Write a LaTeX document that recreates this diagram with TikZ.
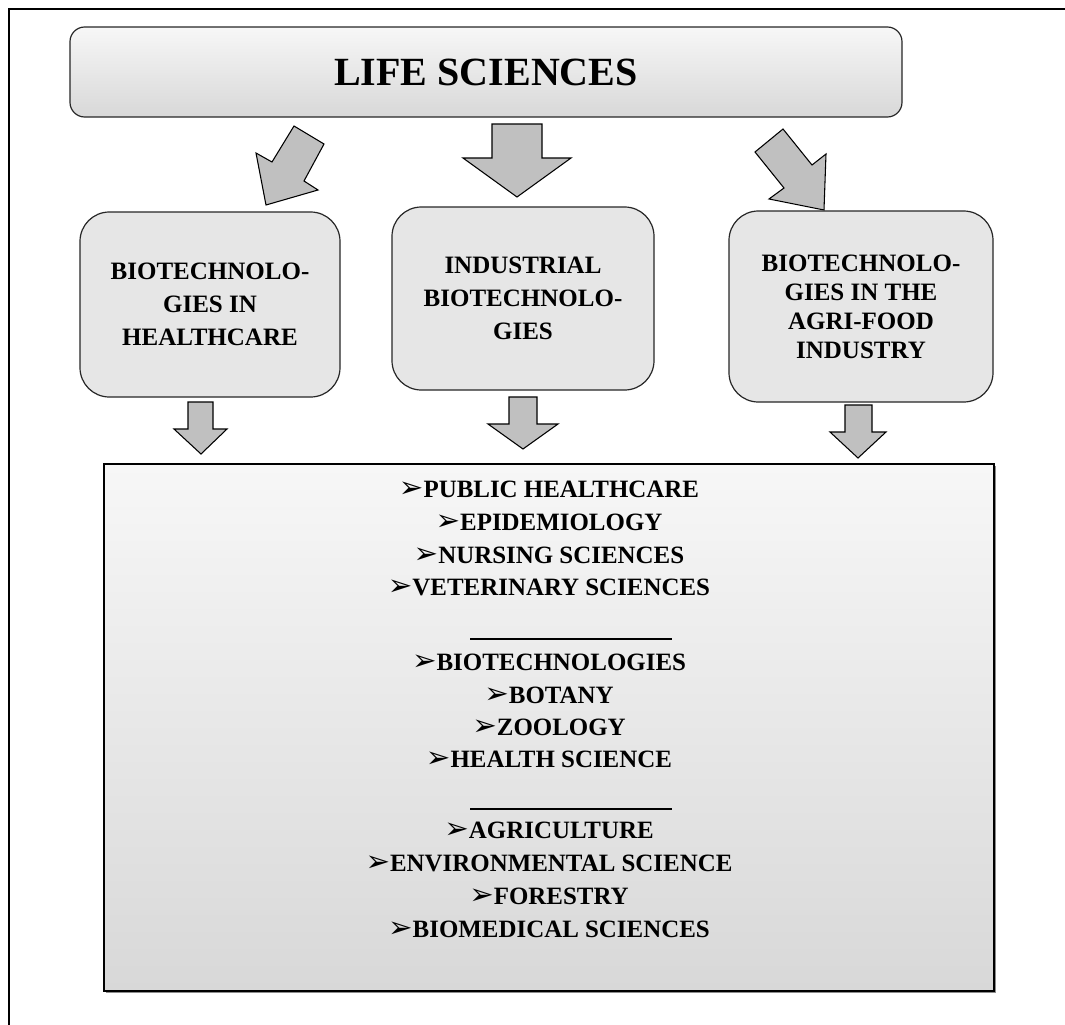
\documentclass[tikz,border=0pt]{standalone}
\usepackage{fontspec}
\setmainfont{Liberation Serif}
\newfontfamily\symfont{DejaVu Sans}
\definecolor{boxfill}{HTML}{E6E6E6}
\definecolor{arrowfill}{HTML}{C0C0C0}
\definecolor{shadetop}{HTML}{F7F7F7}
\definecolor{shadebot}{HTML}{D8D8D8}
\newcommand{\bul}{{\symfont\fontsize{22}{22}\selectfont ➢}}
\begin{document}
\begin{tikzpicture}[x=0.75pt,y=-0.75pt,
  blockarrow/.style={fill=arrowfill, draw=black, line width=0.8pt, line join=miter},
  catbox/.style={draw=black!85, line width=0.9pt, fill=boxfill, rounded corners=22pt,
    align=center, inner sep=0pt, font=\fontsize{18.75}{24.75}\selectfont\bfseries},
  listitem/.style={anchor=base, inner sep=0pt, font=\fontsize{18.7}{22}\selectfont\bfseries},
  sepline/.style={line width=2.2pt, black},
]
\useasboundingbox (0,0) rectangle (1065,1025);
% outer frame (only top and left visible)
\draw[line width=1.5pt] (9,1025) -- (9,9) -- (1065,9);

% title
\node[draw=black!85, line width=0.9pt, rounded corners=11pt, top color=shadetop, bottom color=shadebot,
  minimum width=624pt, minimum height=67.5pt, inner sep=0pt,
  font=\fontsize{30}{34}\selectfont\bfseries] (life) at (486,72) {LIFE SCIENCES};

% top arrows
\draw[blockarrow] (294,126) -- (324,144) -- (304,181) -- (318,190) -- (266,205) -- (256,153) -- (272,162) -- cycle;
\draw[blockarrow] (492,124) -- (542,124) -- (542,158) -- (571,158) -- (517,197) -- (463,158) -- (492,158) -- cycle;
\draw[blockarrow] (755,152) -- (783,129) -- (812,165) -- (826,154) -- (824,210) -- (769,199) -- (784,188) -- cycle;

% category boxes
\node[catbox, minimum width=195pt, minimum height=138.75pt] (health) at (210,304.5)
  {BIOTECHNOLO-\\GIES IN\\HEALTHCARE};
\node[catbox, minimum width=196.5pt, minimum height=137.25pt] (indus) at (523,298.5)
  {INDUSTRIAL\\BIOTECHNOLO-\\GIES};
\node[catbox, minimum width=198pt, minimum height=143.25pt,
  font=\fontsize{18.75}{21.75}\selectfont\bfseries] (agri) at (861,306.5)
  {BIOTECHNOLO-\\GIES IN THE\\AGRI-FOOD\\INDUSTRY};

% lower arrows
\draw[blockarrow] (188,402) -- (213,402) -- (213,429) -- (227,429) -- (201,454) -- (174,429) -- (188,429) -- cycle;
\draw[blockarrow] (509,397) -- (537,397) -- (537,424) -- (558,424) -- (523,449) -- (488,424) -- (509,424) -- cycle;
\draw[blockarrow] (845,405) -- (872,405) -- (872,432) -- (886,432) -- (858,458) -- (830,432) -- (845,432) -- cycle;

% list box
\fill[black!45] (106,466) rectangle (996,993);
\node[draw=black, line width=1pt, top color=shadetop, bottom color=shadebot,
  minimum width=667.5pt, minimum height=395.25pt, inner sep=0pt] (list) at (549,727.5) {};

\node[listitem] (l1) at (549,497) {\bul PUBLIC HEALTHCARE};
\node[listitem] (l2) at (549,530) {\bul EPIDEMIOLOGY};
\node[listitem] (l3) at (549,563) {\bul NURSING SCIENCES};
\node[listitem] (l4) at (549,595) {\bul VETERINARY SCIENCES};
\draw[sepline] (470,639) -- (672,639);
\node[listitem] (l5) at (549,670) {\bul BIOTECHNOLOGIES};
\node[listitem] (l6) at (549,703) {\bul BOTANY};
\node[listitem] (l7) at (549,735) {\bul ZOOLOGY};
\node[listitem] (l8) at (549,767) {\bul HEALTH SCIENCE};
\draw[sepline] (470,809) -- (672,809);
\node[listitem] (l9) at (549,838) {\bul AGRICULTURE};
\node[listitem] (l10) at (549,871) {\bul ENVIRONMENTAL SCIENCE};
\node[listitem] (l11) at (549,904) {\bul FORESTRY};
\node[listitem] (l12) at (549,937) {\bul BIOMEDICAL SCIENCES};
\end{tikzpicture}
\end{document}
